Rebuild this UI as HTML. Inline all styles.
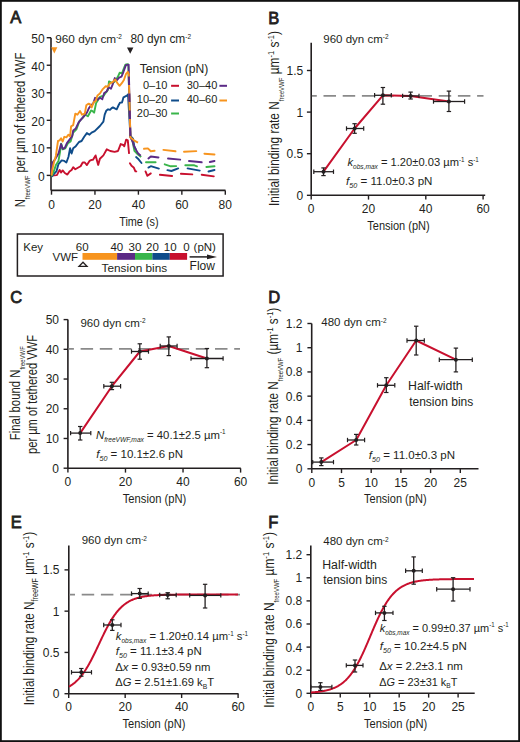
<!DOCTYPE html>
<html><head><meta charset="utf-8"><title>Figure</title>
<style>
html,body{margin:0;padding:0;background:#fff;}
svg{display:block;}
text{font-family:"Liberation Sans", sans-serif;fill:#231f20;}
</style></head><body>
<svg width="520" height="742" viewBox="0 0 520 742">
<rect x="0" y="0" width="520" height="742" fill="#fff"/>
<text x="10.2" y="23" font-size="16.5" text-anchor="start" stroke="#231f20" stroke-width="0.8">A</text>
<line x1="51" y1="37.7" x2="51" y2="190.4" stroke="#231f20" stroke-width="1.6" />
<line x1="46.7" y1="175.4" x2="51" y2="175.4" stroke="#231f20" stroke-width="1.4" />
<text x="44.6" y="181" font-size="12" text-anchor="end" >0</text>
<line x1="46.7" y1="147.86" x2="51" y2="147.86" stroke="#231f20" stroke-width="1.4" />
<text x="44.6" y="153.46" font-size="12" text-anchor="end" >10</text>
<line x1="46.7" y1="120.32" x2="51" y2="120.32" stroke="#231f20" stroke-width="1.4" />
<text x="44.6" y="125.92" font-size="12" text-anchor="end" >20</text>
<line x1="46.7" y1="92.78" x2="51" y2="92.78" stroke="#231f20" stroke-width="1.4" />
<text x="44.6" y="98.38" font-size="12" text-anchor="end" >30</text>
<line x1="46.7" y1="65.24" x2="51" y2="65.24" stroke="#231f20" stroke-width="1.4" />
<text x="44.6" y="70.84" font-size="12" text-anchor="end" >40</text>
<line x1="46.7" y1="37.7" x2="51" y2="37.7" stroke="#231f20" stroke-width="1.4" />
<text x="44.6" y="43.3" font-size="12" text-anchor="end" >50</text>
<line x1="51" y1="190.4" x2="225.5" y2="190.4" stroke="#231f20" stroke-width="1.6" />
<line x1="51.5" y1="190.4" x2="51.5" y2="194.7" stroke="#231f20" stroke-width="1.4" />
<text x="51.5" y="208.6" font-size="12" text-anchor="middle" >0</text>
<line x1="94.95" y1="190.4" x2="94.95" y2="194.7" stroke="#231f20" stroke-width="1.4" />
<text x="94.95" y="208.6" font-size="12" text-anchor="middle" >20</text>
<line x1="138.4" y1="190.4" x2="138.4" y2="194.7" stroke="#231f20" stroke-width="1.4" />
<text x="138.4" y="208.6" font-size="12" text-anchor="middle" >40</text>
<line x1="181.85" y1="190.4" x2="181.85" y2="194.7" stroke="#231f20" stroke-width="1.4" />
<text x="181.85" y="208.6" font-size="12" text-anchor="middle" >60</text>
<line x1="225.3" y1="190.4" x2="225.3" y2="194.7" stroke="#231f20" stroke-width="1.4" />
<text x="225.3" y="208.6" font-size="12" text-anchor="middle" >80</text>
<text x="138.9" y="226" font-size="13.5" text-anchor="middle" textLength="39.5" lengthAdjust="spacingAndGlyphs">Time (s)</text>
<text x="55.2" y="42.6" font-size="11.8">960 dyn cm<tspan font-size="6.5" dy="-3.8">-2</tspan></text>
<text x="130.4" y="42.6" font-size="11.9">80 dyn cm<tspan font-size="6.5" dy="-3.8">-2</tspan></text>
<polygon points="51.2,47.2 57.4,47.2 54.3,53.6" fill="#f7941e"/>
<polygon points="127,47.5 133.4,47.5 130.2,53.8" fill="#231f20"/>
<text x="139.8" y="73" font-size="12.1" text-anchor="start" >Tension (pN)</text>
<text x="167.4" y="89.3" font-size="11" text-anchor="end" >0–10</text>
<line x1="171.1" y1="85.8" x2="179" y2="85.8" stroke="#c8102e" stroke-width="2" />
<text x="167.4" y="103.4" font-size="11" text-anchor="end" >10–20</text>
<line x1="171.1" y1="100.5" x2="179" y2="100.5" stroke="#0f4c8a" stroke-width="2" />
<text x="167.4" y="117.2" font-size="11" text-anchor="end" >20–30</text>
<line x1="171.1" y1="113.5" x2="179" y2="113.5" stroke="#39b54a" stroke-width="2" />
<text x="186.7" y="89.3" font-size="11" text-anchor="start" >30–40</text>
<line x1="219.4" y1="85.8" x2="227" y2="85.8" stroke="#5b2a86" stroke-width="2" />
<text x="186.7" y="103.4" font-size="11" text-anchor="start" >40–60</text>
<line x1="219.4" y1="100.5" x2="227" y2="100.5" stroke="#f7941e" stroke-width="2" />
<text transform="translate(25.2,130) rotate(-90)" font-size="14.2" text-anchor="middle" textLength="154.5" lengthAdjust="spacingAndGlyphs">N<tspan font-size="7.6" dy="4.5">freeVWF</tspan><tspan dy="-4.5"> per µm of tethered VWF</tspan></text>
<polyline points="51.5,175.5 56.9,175.1 59.6,169.9 61.1,172.5 62.7,170.4 64.8,173 67.4,174.6 69.5,171.4 71.6,169.9 73.2,167.2 75.3,169.3 77.9,167.8 80.6,166.2 82.7,162.5 84.8,162.5 86.9,165.1 89.5,160.9 91.6,159.9 93,159.7 95.6,155.4 98.2,164.9 99.9,158.8 103.4,155.4 106.8,149.3 110.3,151 114.6,151.9 118,151 120.7,144.1 123.3,145 124.3,146.3 126.2,139.6 127.8,140.4 129.1,153.9" fill="none" stroke="#c8102e" stroke-width="1.9" stroke-linejoin="round" stroke-linecap="butt" />
<polyline points="129.9,163.3 131.5,165.7 133.7,167.4 135.4,171.4 136.3,171.4" fill="none" stroke="#c8102e" stroke-width="1.9" stroke-linejoin="round"  stroke-linecap="round"/>
<polyline points="145.5,171.4 147.4,175.8 150.8,173.4" fill="none" stroke="#c8102e" stroke-width="1.9" stroke-linejoin="round"  stroke-linecap="round"/>
<polyline points="159.9,174.8 172.1,176" fill="none" stroke="#c8102e" stroke-width="1.9" stroke-linejoin="round"  stroke-linecap="round"/>
<polyline points="180.9,173.7 192.3,174.4" fill="none" stroke="#c8102e" stroke-width="1.9" stroke-linejoin="round"  stroke-linecap="round"/>
<polyline points="201.7,174.7 213.8,176.4" fill="none" stroke="#c8102e" stroke-width="1.9" stroke-linejoin="round"  stroke-linecap="round"/>
<polyline points="51.5,175.5 52.2,176.2 54.3,173.5 56.4,171.4 58.5,164.1 61.7,160.4 64.3,160.9 66.4,162.5 68.5,156.7 70.1,148.3 71.6,153.6 73.2,148.3 75.8,146.2 79,142 81.6,141 84.2,136.8 86.9,133.1 89.5,134.7 91.6,132.6 94.7,131.1 99.9,126 103.4,121.6 104.7,114.6 106.2,110.8 108.1,109.3 110,109.8 111.4,108.4 112.9,107.4 114.8,108.4 116.7,109.3 118.7,105 120.1,102.6 122,102.6 123.5,97.3 125.4,96.3 127.3,95.4 128,94.4 130.4,136 133,138.6 134.2,146 136,150" fill="none" stroke="#0f4c8a" stroke-width="1.9" stroke-linejoin="round" stroke-linecap="butt" />
<polyline points="136.1,157.1 138,158.7 141.5,163" fill="none" stroke="#0f4c8a" stroke-width="1.9" stroke-linejoin="round"  stroke-linecap="round"/>
<polyline points="148.4,167.6 150.8,166.2 158.9,168.6" fill="none" stroke="#0f4c8a" stroke-width="1.9" stroke-linejoin="round"  stroke-linecap="round"/>
<polyline points="167.4,170.1 171.4,171 178.2,168.4" fill="none" stroke="#0f4c8a" stroke-width="1.9" stroke-linejoin="round"  stroke-linecap="round"/>
<polyline points="187.6,168.4 199.7,170.6" fill="none" stroke="#0f4c8a" stroke-width="1.9" stroke-linejoin="round"  stroke-linecap="round"/>
<polyline points="208.5,171.5 214.5,170" fill="none" stroke="#0f4c8a" stroke-width="1.9" stroke-linejoin="round"  stroke-linecap="round"/>
<polyline points="51.5,175.5 51.7,175.6 53.8,171.4 55.9,165.1 58.5,160.9 60.1,151.5 61.1,143.6 62.7,149.4 65.3,148.3 68,143.1 70.6,141.5 73.2,132.6 76.4,129.4 79.5,121 82.7,117.9 85.3,114.7 87.9,116.3 91.1,110.5 92.2,110.8 94.1,112.7 96.1,103.1 98,100.2 99.4,97.3 101.3,96.3 103.3,96.3 105.2,93.5 108.1,89.6 109,81.4 111,82.4 112.9,82.9 115.3,81 117.7,77.1 119.6,72.8 122,73.3 123.5,69.4 125.4,64.6 127.3,64.1 128.3,64.6 130.4,136.5 132.6,141.5 134.4,150.8 138,154.5 141.2,157" fill="none" stroke="#39b54a" stroke-width="1.9" stroke-linejoin="round" stroke-linecap="butt" />
<polyline points="146,162.3 148.8,162.3 155.6,162.3" fill="none" stroke="#39b54a" stroke-width="1.9" stroke-linejoin="round"  stroke-linecap="round"/>
<polyline points="164.7,164.3 170.8,166.3 176.2,166.1" fill="none" stroke="#39b54a" stroke-width="1.9" stroke-linejoin="round"  stroke-linecap="round"/>
<polyline points="185.3,165.3 194.3,165.3 197,166.3" fill="none" stroke="#39b54a" stroke-width="1.9" stroke-linejoin="round"  stroke-linecap="round"/>
<polyline points="206.4,167 214.5,166.3" fill="none" stroke="#39b54a" stroke-width="1.9" stroke-linejoin="round"  stroke-linecap="round"/>
<polyline points="51.2,172.5 52.2,163 55.4,158.8 58.5,153.6 61.1,144.1 62.7,148.8 64.8,147.8 66.9,143.1 70.1,138.9 72.2,136.2 73.2,130.5 75.8,128.4 78.5,122.6 81.6,118.9 84.2,115.8 86.9,112.6 88.8,108.4 91.25,105 93.2,103.6 95.1,97.8 97.5,99.7 99.9,97.8 102.3,99.2 104.2,93 106.6,91.5 108.6,87.2 111,88.7 112.9,83.8 114.8,78.1 116.7,80.5 119.1,77.6 121.5,76.6 123.5,71.8 125.9,65.1 128.6,64.6 130.4,137 132.6,141.5 134,146.3 135.9,149.6 138,153.3 140.7,155.8" fill="none" stroke="#5b2a86" stroke-width="1.9" stroke-linejoin="round" stroke-linecap="butt" />
<polyline points="148.4,158.5 150.8,156.5 158.5,157.5" fill="none" stroke="#5b2a86" stroke-width="1.9" stroke-linejoin="round"  stroke-linecap="round"/>
<polyline points="168,158.5 180.2,159.6" fill="none" stroke="#5b2a86" stroke-width="1.9" stroke-linejoin="round"  stroke-linecap="round"/>
<polyline points="189,161 201.7,162.3" fill="none" stroke="#5b2a86" stroke-width="1.9" stroke-linejoin="round"  stroke-linecap="round"/>
<polyline points="209.8,162 214.5,161" fill="none" stroke="#5b2a86" stroke-width="1.9" stroke-linejoin="round"  stroke-linecap="round"/>
<polyline points="51.5,175.5 52.2,170.4 53.8,163 55.9,155.7 58,141 59.6,140.4 61.1,138.3 62.7,141.5 64.3,136.8 66.4,137.3 68.5,134.7 70.1,136.2 71.1,126.3 73.2,125.2 75.3,113.7 77.4,114.7 80,111 82.1,114.7 84.8,113.7 86.3,105.3 88.4,103.7 89.8,104 91.7,107.4 93.7,102.1 95.6,101.2 97.5,95.4 99.9,93.5 102.8,89.1 105.7,86.3 107.6,86.7 110,83.4 112.9,81.9 115.3,79.5 117.2,82.9 119.6,85.8 122,82.9 123.9,80 125.9,74.2 127.8,71.8 128.75,74.2 130.4,137.5 132.1,138.8 134.8,140.9 138,142.6" fill="none" stroke="#f7941e" stroke-width="1.9" stroke-linejoin="round" stroke-linecap="butt" />
<polyline points="144,148.8 147.9,148.4 150.8,151.25 154.6,150.8" fill="none" stroke="#f7941e" stroke-width="1.9" stroke-linejoin="round"  stroke-linecap="round"/>
<polyline points="163.4,149.9 175.5,151.3" fill="none" stroke="#f7941e" stroke-width="1.9" stroke-linejoin="round"  stroke-linecap="round"/>
<polyline points="184,151.8 196.3,151.1" fill="none" stroke="#f7941e" stroke-width="1.9" stroke-linejoin="round"  stroke-linecap="round"/>
<polyline points="204.4,153.7 214.5,154.5" fill="none" stroke="#f7941e" stroke-width="1.9" stroke-linejoin="round"  stroke-linecap="round"/>
<line x1="128.8" y1="74.5" x2="130.4" y2="137" stroke="#5b2a86" stroke-width="2.1" stroke-dasharray="8.5 8.5" stroke-dashoffset="-2"/>
<rect x="17.4" y="234" width="205.7" height="42" fill="none" stroke="#231f20" stroke-width="1.5"/>
<text x="23.3" y="250.9" font-size="11.5" text-anchor="start" >Key</text>
<text x="52.6" y="261" font-size="11.5" text-anchor="start" >VWF</text>
<rect x="82.5" y="253" width="34.6" height="6.8" fill="#f7941e"/>
<rect x="117.1" y="253" width="17.9" height="6.8" fill="#5b2a86"/>
<rect x="135" y="253" width="17.4" height="6.8" fill="#39b54a"/>
<rect x="152.4" y="253" width="17.4" height="6.8" fill="#0f4c8a"/>
<rect x="169.8" y="253" width="17.3" height="6.8" fill="#c8102e"/>
<text x="82.2" y="250.9" font-size="11.5" text-anchor="middle" >60</text>
<text x="116.8" y="250.9" font-size="11.5" text-anchor="middle" >40</text>
<text x="135" y="250.9" font-size="11.5" text-anchor="middle" >30</text>
<text x="152.5" y="250.9" font-size="11.5" text-anchor="middle" >20</text>
<text x="170.2" y="250.9" font-size="11.5" text-anchor="middle" >10</text>
<text x="186.5" y="250.9" font-size="11.5" text-anchor="middle" >0</text>
<text x="193.6" y="250.9" font-size="11.5" text-anchor="start" >(pN)</text>
<polygon points="83,262.3 79,266.4 87,266.4" fill="none" stroke="#231f20" stroke-width="1.3"/>
<text x="101.6" y="272.2" font-size="11.8" text-anchor="start" >Tension bins</text>
<line x1="189.6" y1="256.9" x2="209" y2="256.9" stroke="#231f20" stroke-width="1.5" />
<polygon points="207,254.5 217,256.9 207,259.3" fill="#231f20"/>
<text x="189.6" y="269.5" font-size="12" text-anchor="start" >Flow</text>
<text x="268.2" y="23.5" font-size="16.5" text-anchor="start" stroke="#231f20" stroke-width="0.8">B</text>
<line x1="311.2" y1="42.7" x2="311.2" y2="195.3" stroke="#231f20" stroke-width="1.6" />
<line x1="306.9" y1="195.3" x2="311.2" y2="195.3" stroke="#231f20" stroke-width="1.4" />
<text x="303.2" y="199.7" font-size="12" text-anchor="end" >0</text>
<line x1="306.9" y1="153.7" x2="311.2" y2="153.7" stroke="#231f20" stroke-width="1.4" />
<text x="303.2" y="158.1" font-size="12" text-anchor="end" >0.5</text>
<line x1="306.9" y1="112.1" x2="311.2" y2="112.1" stroke="#231f20" stroke-width="1.4" />
<text x="303.2" y="116.5" font-size="12" text-anchor="end" >1</text>
<line x1="306.9" y1="70.5" x2="311.2" y2="70.5" stroke="#231f20" stroke-width="1.4" />
<text x="303.2" y="74.9" font-size="12" text-anchor="end" >1.5</text>
<line x1="311.2" y1="195.3" x2="485.2" y2="195.3" stroke="#231f20" stroke-width="1.6" />
<line x1="311.2" y1="195.3" x2="311.2" y2="199.6" stroke="#231f20" stroke-width="1.4" />
<text x="311.2" y="213" font-size="12" text-anchor="middle" >0</text>
<line x1="368.5" y1="195.3" x2="368.5" y2="199.6" stroke="#231f20" stroke-width="1.4" />
<text x="368.5" y="213" font-size="12" text-anchor="middle" >20</text>
<line x1="425.8" y1="195.3" x2="425.8" y2="199.6" stroke="#231f20" stroke-width="1.4" />
<text x="425.8" y="213" font-size="12" text-anchor="middle" >40</text>
<line x1="483.1" y1="195.3" x2="483.1" y2="199.6" stroke="#231f20" stroke-width="1.4" />
<text x="483.1" y="213" font-size="12" text-anchor="middle" >60</text>
<text x="398.5" y="230.3" font-size="13.5" text-anchor="middle" textLength="62.5" lengthAdjust="spacingAndGlyphs">Tension (pN)</text>
<text x="323.3" y="42.7" font-size="11.5">960 dyn cm<tspan font-size="6.5" dy="-3.8">-2</tspan></text>
<line x1="311.9" y1="95.8" x2="483.5" y2="95.8" stroke="#8a8a8a" stroke-width="1.8" stroke-dasharray="12.5 6.7" stroke-dashoffset="7.6"/>
<polyline points="323.5,171.7 354.6,128.5 382.9,95.3 410.6,95.9 448.9,101.5" fill="none" stroke="#c8102e" stroke-width="2" stroke-linejoin="round" stroke-linecap="butt" />
<line x1="313.8" y1="171.7" x2="333.5" y2="171.7" stroke="#231f20" stroke-width="1.3" />
<line x1="323.5" y1="167.9" x2="323.5" y2="175.6" stroke="#231f20" stroke-width="1.3" />
<line x1="313.8" y1="169.5" x2="313.8" y2="173.9" stroke="#231f20" stroke-width="1.2" />
<line x1="333.5" y1="169.5" x2="333.5" y2="173.9" stroke="#231f20" stroke-width="1.2" />
<line x1="321.3" y1="167.9" x2="325.7" y2="167.9" stroke="#231f20" stroke-width="1.2" />
<line x1="321.3" y1="175.6" x2="325.7" y2="175.6" stroke="#231f20" stroke-width="1.2" />
<circle cx="323.5" cy="171.7" r="2" fill="#231f20"/>
<line x1="346.5" y1="128.5" x2="363.7" y2="128.5" stroke="#231f20" stroke-width="1.3" />
<line x1="354.6" y1="123.7" x2="354.6" y2="133.3" stroke="#231f20" stroke-width="1.3" />
<line x1="346.5" y1="126.3" x2="346.5" y2="130.7" stroke="#231f20" stroke-width="1.2" />
<line x1="363.7" y1="126.3" x2="363.7" y2="130.7" stroke="#231f20" stroke-width="1.2" />
<line x1="352.4" y1="123.7" x2="356.8" y2="123.7" stroke="#231f20" stroke-width="1.2" />
<line x1="352.4" y1="133.3" x2="356.8" y2="133.3" stroke="#231f20" stroke-width="1.2" />
<circle cx="354.6" cy="128.5" r="2" fill="#231f20"/>
<line x1="374.6" y1="95.3" x2="391.3" y2="95.3" stroke="#231f20" stroke-width="1.3" />
<line x1="382.9" y1="87.5" x2="382.9" y2="104.2" stroke="#231f20" stroke-width="1.3" />
<line x1="374.6" y1="93.1" x2="374.6" y2="97.5" stroke="#231f20" stroke-width="1.2" />
<line x1="391.3" y1="93.1" x2="391.3" y2="97.5" stroke="#231f20" stroke-width="1.2" />
<line x1="380.7" y1="87.5" x2="385.1" y2="87.5" stroke="#231f20" stroke-width="1.2" />
<line x1="380.7" y1="104.2" x2="385.1" y2="104.2" stroke="#231f20" stroke-width="1.2" />
<circle cx="382.9" cy="95.3" r="2" fill="#231f20"/>
<line x1="402.6" y1="95.9" x2="419" y2="95.9" stroke="#231f20" stroke-width="1.3" />
<line x1="410.6" y1="92.1" x2="410.6" y2="99" stroke="#231f20" stroke-width="1.3" />
<line x1="402.6" y1="93.7" x2="402.6" y2="98.1" stroke="#231f20" stroke-width="1.2" />
<line x1="419" y1="93.7" x2="419" y2="98.1" stroke="#231f20" stroke-width="1.2" />
<line x1="408.4" y1="92.1" x2="412.8" y2="92.1" stroke="#231f20" stroke-width="1.2" />
<line x1="408.4" y1="99" x2="412.8" y2="99" stroke="#231f20" stroke-width="1.2" />
<circle cx="410.6" cy="95.9" r="2" fill="#231f20"/>
<line x1="433.5" y1="101.5" x2="464.6" y2="101.5" stroke="#231f20" stroke-width="1.3" />
<line x1="448.9" y1="91.1" x2="448.9" y2="111.5" stroke="#231f20" stroke-width="1.3" />
<line x1="433.5" y1="99.3" x2="433.5" y2="103.7" stroke="#231f20" stroke-width="1.2" />
<line x1="464.6" y1="99.3" x2="464.6" y2="103.7" stroke="#231f20" stroke-width="1.2" />
<line x1="446.7" y1="91.1" x2="451.1" y2="91.1" stroke="#231f20" stroke-width="1.2" />
<line x1="446.7" y1="111.5" x2="451.1" y2="111.5" stroke="#231f20" stroke-width="1.2" />
<circle cx="448.9" cy="101.5" r="2" fill="#231f20"/>
<text x="347.5" y="166.2" font-size="11.6" textLength="131.3" lengthAdjust="spacingAndGlyphs"><tspan font-style="italic">k</tspan><tspan font-style="italic" font-size="6.8" dy="3.2">obs,max</tspan><tspan dy="-3.2"> = 1.20±0.03 µm</tspan><tspan font-size="6.5" dy="-4.2">-1</tspan><tspan dy="4.2"> s</tspan><tspan font-size="6.5" dy="-4.2">-1</tspan><tspan dy="4.2"></tspan></text>
<text x="346" y="184.6" font-size="11.6" textLength="86.5" lengthAdjust="spacingAndGlyphs"><tspan font-style="italic">f</tspan><tspan font-style="italic" font-size="7.2" dy="3">50</tspan><tspan dy="-3"> = 11.0±0.3 pN</tspan></text>
<text transform="translate(279,118.5) rotate(-90)" font-size="14.2" text-anchor="middle" textLength="175" lengthAdjust="spacingAndGlyphs">Initial binding rate N<tspan font-size="7.2" dy="4.8">freeVWF</tspan><tspan dy="-4.8"> µm<tspan font-size="9" dy="-5">-1</tspan><tspan dy="5"> s</tspan><tspan font-size="9" dy="-5">-1</tspan><tspan dy="5">)</tspan></tspan></text>
<text x="10.3" y="303.3" font-size="16.5" text-anchor="start" stroke="#231f20" stroke-width="0.8">C</text>
<line x1="67.9" y1="319.6" x2="67.9" y2="468.3" stroke="#231f20" stroke-width="1.6" />
<line x1="63.6" y1="468.2" x2="67.9" y2="468.2" stroke="#231f20" stroke-width="1.4" />
<text x="59" y="472.6" font-size="12" text-anchor="end" >0</text>
<line x1="63.6" y1="438.48" x2="67.9" y2="438.48" stroke="#231f20" stroke-width="1.4" />
<text x="59" y="442.88" font-size="12" text-anchor="end" >10</text>
<line x1="63.6" y1="408.76" x2="67.9" y2="408.76" stroke="#231f20" stroke-width="1.4" />
<text x="59" y="413.16" font-size="12" text-anchor="end" >20</text>
<line x1="63.6" y1="379.04" x2="67.9" y2="379.04" stroke="#231f20" stroke-width="1.4" />
<text x="59" y="383.44" font-size="12" text-anchor="end" >30</text>
<line x1="63.6" y1="349.32" x2="67.9" y2="349.32" stroke="#231f20" stroke-width="1.4" />
<text x="59" y="353.72" font-size="12" text-anchor="end" >40</text>
<line x1="63.6" y1="319.6" x2="67.9" y2="319.6" stroke="#231f20" stroke-width="1.4" />
<text x="59" y="324" font-size="12" text-anchor="end" >50</text>
<line x1="67.9" y1="468.3" x2="240.8" y2="468.3" stroke="#231f20" stroke-width="1.6" />
<line x1="67.9" y1="468.3" x2="67.9" y2="472.6" stroke="#231f20" stroke-width="1.4" />
<text x="67.9" y="486.2" font-size="12" text-anchor="middle" >0</text>
<line x1="125.47" y1="468.3" x2="125.47" y2="472.6" stroke="#231f20" stroke-width="1.4" />
<text x="125.47" y="486.2" font-size="12" text-anchor="middle" >20</text>
<line x1="183.03" y1="468.3" x2="183.03" y2="472.6" stroke="#231f20" stroke-width="1.4" />
<text x="183.03" y="486.2" font-size="12" text-anchor="middle" >40</text>
<line x1="240.6" y1="468.3" x2="240.6" y2="472.6" stroke="#231f20" stroke-width="1.4" />
<text x="240.6" y="486.2" font-size="12" text-anchor="middle" >60</text>
<text x="154.5" y="503" font-size="13.5" text-anchor="middle" textLength="63.5" lengthAdjust="spacingAndGlyphs">Tension (pN)</text>
<text x="80.4" y="326.6" font-size="11.5">960 dyn cm<tspan font-size="6.5" dy="-3.8">-2</tspan></text>
<line x1="68.5" y1="348.8" x2="240" y2="348.8" stroke="#8a8a8a" stroke-width="1.8" stroke-dasharray="12.5 6.7" stroke-dashoffset="7.1"/>
<polyline points="80.2,433.1 111.9,386.2 139.8,351.5 168.8,346 206.9,358.5" fill="none" stroke="#c8102e" stroke-width="2" stroke-linejoin="round" stroke-linecap="butt" />
<line x1="70.6" y1="433.1" x2="90.8" y2="433.1" stroke="#231f20" stroke-width="1.3" />
<line x1="80.2" y1="426.5" x2="80.2" y2="440" stroke="#231f20" stroke-width="1.3" />
<line x1="70.6" y1="430.9" x2="70.6" y2="435.3" stroke="#231f20" stroke-width="1.2" />
<line x1="90.8" y1="430.9" x2="90.8" y2="435.3" stroke="#231f20" stroke-width="1.2" />
<line x1="78" y1="426.5" x2="82.4" y2="426.5" stroke="#231f20" stroke-width="1.2" />
<line x1="78" y1="440" x2="82.4" y2="440" stroke="#231f20" stroke-width="1.2" />
<circle cx="80.2" cy="433.1" r="2" fill="#231f20"/>
<line x1="103.8" y1="386.2" x2="120.6" y2="386.2" stroke="#231f20" stroke-width="1.3" />
<line x1="111.9" y1="382.3" x2="111.9" y2="389.6" stroke="#231f20" stroke-width="1.3" />
<line x1="103.8" y1="384" x2="103.8" y2="388.4" stroke="#231f20" stroke-width="1.2" />
<line x1="120.6" y1="384" x2="120.6" y2="388.4" stroke="#231f20" stroke-width="1.2" />
<line x1="109.7" y1="382.3" x2="114.1" y2="382.3" stroke="#231f20" stroke-width="1.2" />
<line x1="109.7" y1="389.6" x2="114.1" y2="389.6" stroke="#231f20" stroke-width="1.2" />
<circle cx="111.9" cy="386.2" r="2" fill="#231f20"/>
<line x1="131.5" y1="351.5" x2="148.5" y2="351.5" stroke="#231f20" stroke-width="1.3" />
<line x1="139.8" y1="343.8" x2="139.8" y2="359.2" stroke="#231f20" stroke-width="1.3" />
<line x1="131.5" y1="349.3" x2="131.5" y2="353.7" stroke="#231f20" stroke-width="1.2" />
<line x1="148.5" y1="349.3" x2="148.5" y2="353.7" stroke="#231f20" stroke-width="1.2" />
<line x1="137.6" y1="343.8" x2="142" y2="343.8" stroke="#231f20" stroke-width="1.2" />
<line x1="137.6" y1="359.2" x2="142" y2="359.2" stroke="#231f20" stroke-width="1.2" />
<circle cx="139.8" cy="351.5" r="2" fill="#231f20"/>
<line x1="160.2" y1="346" x2="177.1" y2="346" stroke="#231f20" stroke-width="1.3" />
<line x1="168.8" y1="336.9" x2="168.8" y2="355.6" stroke="#231f20" stroke-width="1.3" />
<line x1="160.2" y1="343.8" x2="160.2" y2="348.2" stroke="#231f20" stroke-width="1.2" />
<line x1="177.1" y1="343.8" x2="177.1" y2="348.2" stroke="#231f20" stroke-width="1.2" />
<line x1="166.6" y1="336.9" x2="171" y2="336.9" stroke="#231f20" stroke-width="1.2" />
<line x1="166.6" y1="355.6" x2="171" y2="355.6" stroke="#231f20" stroke-width="1.2" />
<circle cx="168.8" cy="346" r="2" fill="#231f20"/>
<line x1="191" y1="358.5" x2="223.1" y2="358.5" stroke="#231f20" stroke-width="1.3" />
<line x1="206.9" y1="348.5" x2="206.9" y2="367.7" stroke="#231f20" stroke-width="1.3" />
<line x1="191" y1="356.3" x2="191" y2="360.7" stroke="#231f20" stroke-width="1.2" />
<line x1="223.1" y1="356.3" x2="223.1" y2="360.7" stroke="#231f20" stroke-width="1.2" />
<line x1="204.7" y1="348.5" x2="209.1" y2="348.5" stroke="#231f20" stroke-width="1.2" />
<line x1="204.7" y1="367.7" x2="209.1" y2="367.7" stroke="#231f20" stroke-width="1.2" />
<circle cx="206.9" cy="358.5" r="2" fill="#231f20"/>
<text x="96" y="438.5" font-size="11.6" textLength="129.6" lengthAdjust="spacingAndGlyphs"><tspan font-style="italic">N</tspan><tspan font-style="italic" font-size="6.8" dy="3">freeVWF,max</tspan><tspan dy="-3"> = 40.1±2.5 µm</tspan><tspan font-size="6.5" dy="-4.2">-1</tspan><tspan dy="4.2"></tspan></text>
<text x="96.3" y="457.5" font-size="11.6" textLength="86.7" lengthAdjust="spacingAndGlyphs"><tspan font-style="italic">f</tspan><tspan font-style="italic" font-size="7.2" dy="3">50</tspan><tspan dy="-3"> = 10.1±2.6 pN</tspan></text>
<text transform="translate(20,393.2) rotate(-90)" font-size="14.2" text-anchor="middle" textLength="94" lengthAdjust="spacingAndGlyphs">Final bound N<tspan font-size="7.4" dy="4.5">freeVWF</tspan><tspan dy="-4.5"></tspan></text>
<text transform="translate(36.6,394.5) rotate(-90)" font-size="14.2" text-anchor="middle" textLength="119" lengthAdjust="spacingAndGlyphs">per µm of tethered VWF</text>
<text x="268.2" y="303.2" font-size="16.5" text-anchor="start" stroke="#231f20" stroke-width="0.8">D</text>
<line x1="311.7" y1="323.5" x2="311.7" y2="468.8" stroke="#231f20" stroke-width="1.6" />
<line x1="307.4" y1="468.8" x2="311.7" y2="468.8" stroke="#231f20" stroke-width="1.4" />
<text x="302.5" y="473.2" font-size="12" text-anchor="end" >0</text>
<line x1="307.4" y1="444.58" x2="311.7" y2="444.58" stroke="#231f20" stroke-width="1.4" />
<text x="302.5" y="448.98" font-size="12" text-anchor="end" >0.2</text>
<line x1="307.4" y1="420.37" x2="311.7" y2="420.37" stroke="#231f20" stroke-width="1.4" />
<text x="302.5" y="424.77" font-size="12" text-anchor="end" >0.4</text>
<line x1="307.4" y1="396.15" x2="311.7" y2="396.15" stroke="#231f20" stroke-width="1.4" />
<text x="302.5" y="400.55" font-size="12" text-anchor="end" >0.6</text>
<line x1="307.4" y1="371.94" x2="311.7" y2="371.94" stroke="#231f20" stroke-width="1.4" />
<text x="302.5" y="376.34" font-size="12" text-anchor="end" >0.8</text>
<line x1="307.4" y1="347.72" x2="311.7" y2="347.72" stroke="#231f20" stroke-width="1.4" />
<text x="302.5" y="352.12" font-size="12" text-anchor="end" >1</text>
<line x1="307.4" y1="323.5" x2="311.7" y2="323.5" stroke="#231f20" stroke-width="1.4" />
<text x="302.5" y="327.9" font-size="12" text-anchor="end" >1.2</text>
<line x1="311.7" y1="468.8" x2="478.5" y2="468.8" stroke="#231f20" stroke-width="1.6" />
<line x1="311.8" y1="468.8" x2="311.8" y2="473.1" stroke="#231f20" stroke-width="1.4" />
<text x="311.8" y="487" font-size="12" text-anchor="middle" >0</text>
<line x1="341.5" y1="468.8" x2="341.5" y2="473.1" stroke="#231f20" stroke-width="1.4" />
<text x="341.5" y="487" font-size="12" text-anchor="middle" >5</text>
<line x1="371.2" y1="468.8" x2="371.2" y2="473.1" stroke="#231f20" stroke-width="1.4" />
<text x="371.2" y="487" font-size="12" text-anchor="middle" >10</text>
<line x1="400.9" y1="468.8" x2="400.9" y2="473.1" stroke="#231f20" stroke-width="1.4" />
<text x="400.9" y="487" font-size="12" text-anchor="middle" >15</text>
<line x1="430.6" y1="468.8" x2="430.6" y2="473.1" stroke="#231f20" stroke-width="1.4" />
<text x="430.6" y="487" font-size="12" text-anchor="middle" >20</text>
<line x1="460.3" y1="468.8" x2="460.3" y2="473.1" stroke="#231f20" stroke-width="1.4" />
<text x="460.3" y="487" font-size="12" text-anchor="middle" >25</text>
<text x="395.3" y="502.5" font-size="13.5" text-anchor="middle" textLength="62.5" lengthAdjust="spacingAndGlyphs">Tension (pN)</text>
<text x="321.3" y="326.3" font-size="11.5">480 dyn cm<tspan font-size="6.5" dy="-3.8">-2</tspan></text>
<polyline points="321.3,462.1 356.2,440 386.3,385.3 416.2,340.5 455.9,359.7" fill="none" stroke="#c8102e" stroke-width="2" stroke-linejoin="round" stroke-linecap="butt" />
<line x1="312.7" y1="462.1" x2="333.5" y2="462.1" stroke="#231f20" stroke-width="1.3" />
<line x1="321.3" y1="457.9" x2="321.3" y2="465.6" stroke="#231f20" stroke-width="1.3" />
<line x1="312.7" y1="459.9" x2="312.7" y2="464.3" stroke="#231f20" stroke-width="1.2" />
<line x1="333.5" y1="459.9" x2="333.5" y2="464.3" stroke="#231f20" stroke-width="1.2" />
<line x1="319.1" y1="457.9" x2="323.5" y2="457.9" stroke="#231f20" stroke-width="1.2" />
<line x1="319.1" y1="465.6" x2="323.5" y2="465.6" stroke="#231f20" stroke-width="1.2" />
<circle cx="321.3" cy="462.1" r="2" fill="#231f20"/>
<line x1="347.5" y1="440" x2="364.6" y2="440" stroke="#231f20" stroke-width="1.3" />
<line x1="356.2" y1="434.4" x2="356.2" y2="445" stroke="#231f20" stroke-width="1.3" />
<line x1="347.5" y1="437.8" x2="347.5" y2="442.2" stroke="#231f20" stroke-width="1.2" />
<line x1="364.6" y1="437.8" x2="364.6" y2="442.2" stroke="#231f20" stroke-width="1.2" />
<line x1="354" y1="434.4" x2="358.4" y2="434.4" stroke="#231f20" stroke-width="1.2" />
<line x1="354" y1="445" x2="358.4" y2="445" stroke="#231f20" stroke-width="1.2" />
<circle cx="356.2" cy="440" r="2" fill="#231f20"/>
<line x1="377.5" y1="385.3" x2="394.8" y2="385.3" stroke="#231f20" stroke-width="1.3" />
<line x1="386.3" y1="377.7" x2="386.3" y2="392.5" stroke="#231f20" stroke-width="1.3" />
<line x1="377.5" y1="383.1" x2="377.5" y2="387.5" stroke="#231f20" stroke-width="1.2" />
<line x1="394.8" y1="383.1" x2="394.8" y2="387.5" stroke="#231f20" stroke-width="1.2" />
<line x1="384.1" y1="377.7" x2="388.5" y2="377.7" stroke="#231f20" stroke-width="1.2" />
<line x1="384.1" y1="392.5" x2="388.5" y2="392.5" stroke="#231f20" stroke-width="1.2" />
<circle cx="386.3" cy="385.3" r="2" fill="#231f20"/>
<line x1="407" y1="340.5" x2="424.3" y2="340.5" stroke="#231f20" stroke-width="1.3" />
<line x1="416.2" y1="326.2" x2="416.2" y2="355" stroke="#231f20" stroke-width="1.3" />
<line x1="407" y1="338.3" x2="407" y2="342.7" stroke="#231f20" stroke-width="1.2" />
<line x1="424.3" y1="338.3" x2="424.3" y2="342.7" stroke="#231f20" stroke-width="1.2" />
<line x1="414" y1="326.2" x2="418.4" y2="326.2" stroke="#231f20" stroke-width="1.2" />
<line x1="414" y1="355" x2="418.4" y2="355" stroke="#231f20" stroke-width="1.2" />
<circle cx="416.2" cy="340.5" r="2" fill="#231f20"/>
<line x1="439.3" y1="359.7" x2="472.3" y2="359.7" stroke="#231f20" stroke-width="1.3" />
<line x1="455.9" y1="348.1" x2="455.9" y2="371.9" stroke="#231f20" stroke-width="1.3" />
<line x1="439.3" y1="357.5" x2="439.3" y2="361.9" stroke="#231f20" stroke-width="1.2" />
<line x1="472.3" y1="357.5" x2="472.3" y2="361.9" stroke="#231f20" stroke-width="1.2" />
<line x1="453.7" y1="348.1" x2="458.1" y2="348.1" stroke="#231f20" stroke-width="1.2" />
<line x1="453.7" y1="371.9" x2="458.1" y2="371.9" stroke="#231f20" stroke-width="1.2" />
<circle cx="455.9" cy="359.7" r="2" fill="#231f20"/>
<text x="408" y="389.6" font-size="12.3" text-anchor="start" >Half-width</text>
<text x="409.2" y="405.6" font-size="12" text-anchor="start" >tension bins</text>
<text x="368.8" y="458.5" font-size="11.6" textLength="86.2" lengthAdjust="spacingAndGlyphs"><tspan font-style="italic">f</tspan><tspan font-style="italic" font-size="7.2" dy="3">50</tspan><tspan dy="-3"> = 11.0±0.3 pN</tspan></text>
<text transform="translate(278.3,396.3) rotate(-90)" font-size="14.2" text-anchor="middle" textLength="177" lengthAdjust="spacingAndGlyphs">Initial binding rate N<tspan font-size="7.2" dy="4.8">freeVWF</tspan><tspan dy="-4.8"> (µm<tspan font-size="9" dy="-5">-1</tspan><tspan dy="5"> s</tspan><tspan font-size="9" dy="-5">-1</tspan><tspan dy="5">)</tspan></tspan></text>
<text x="10.8" y="528.1" font-size="16.5" text-anchor="start" stroke="#231f20" stroke-width="0.8">E</text>
<line x1="68.8" y1="545.4" x2="68.8" y2="693.7" stroke="#231f20" stroke-width="1.6" />
<line x1="64.5" y1="693.7" x2="68.8" y2="693.7" stroke="#231f20" stroke-width="1.4" />
<text x="59.5" y="698.1" font-size="12" text-anchor="end" >0</text>
<line x1="64.5" y1="652.43" x2="68.8" y2="652.43" stroke="#231f20" stroke-width="1.4" />
<text x="59.5" y="656.83" font-size="12" text-anchor="end" >0.5</text>
<line x1="64.5" y1="611.15" x2="68.8" y2="611.15" stroke="#231f20" stroke-width="1.4" />
<text x="59.5" y="615.55" font-size="12" text-anchor="end" >1</text>
<line x1="64.5" y1="569.88" x2="68.8" y2="569.88" stroke="#231f20" stroke-width="1.4" />
<text x="59.5" y="574.27" font-size="12" text-anchor="end" >1.5</text>
<line x1="68.8" y1="693.7" x2="238.5" y2="693.7" stroke="#231f20" stroke-width="1.6" />
<line x1="68.7" y1="693.7" x2="68.7" y2="698" stroke="#231f20" stroke-width="1.4" />
<text x="68.7" y="711" font-size="12" text-anchor="middle" >0</text>
<line x1="125.17" y1="693.7" x2="125.17" y2="698" stroke="#231f20" stroke-width="1.4" />
<text x="125.17" y="711" font-size="12" text-anchor="middle" >20</text>
<line x1="181.63" y1="693.7" x2="181.63" y2="698" stroke="#231f20" stroke-width="1.4" />
<text x="181.63" y="711" font-size="12" text-anchor="middle" >40</text>
<line x1="238.1" y1="693.7" x2="238.1" y2="698" stroke="#231f20" stroke-width="1.4" />
<text x="238.1" y="711" font-size="12" text-anchor="middle" >60</text>
<text x="154" y="727.8" font-size="13.5" text-anchor="middle" textLength="63" lengthAdjust="spacingAndGlyphs">Tension (pN)</text>
<text x="81.7" y="544.4" font-size="11.5">960 dyn cm<tspan font-size="6.5" dy="-3.8">-2</tspan></text>
<line x1="69.5" y1="594.7" x2="240" y2="594.7" stroke="#8a8a8a" stroke-width="1.8" stroke-dasharray="12.5 6.7" stroke-dashoffset="7"/>
<polyline points="69,686.63 69.5,686.35 70,686.05 70.5,685.75 71,685.43 71.5,685.1 72,684.76 72.5,684.41 73,684.04 73.5,683.67 74,683.27 74.5,682.87 75,682.45 75.5,682.02 76,681.57 76.5,681.11 77,680.63 77.5,680.14 78,679.63 78.5,679.11 79,678.56 79.5,678.01 80,677.43 80.5,676.84 81,676.24 81.5,675.61 82,674.97 82.5,674.31 83,673.63 83.5,672.94 84,672.22 84.5,671.49 85,670.75 85.5,669.98 86,669.2 86.5,668.4 87,667.58 87.5,666.75 88,665.9 88.5,665.03 89,664.15 89.5,663.25 90,662.33 90.5,661.41 91,660.46 91.5,659.51 92,658.54 92.5,657.56 93,656.57 93.5,655.56 94,654.55 94.5,653.53 95,652.5 95.5,651.46 96,650.41 96.5,649.36 97,648.3 97.5,647.24 98,646.18 98.5,645.12 99,644.05 99.5,642.98 100,641.92 100.5,640.86 101,639.8 101.5,638.74 102,637.69 102.5,636.64 103,635.6 103.5,634.57 104,633.55 104.5,632.54 105,631.53 105.5,630.54 106,629.56 106.5,628.59 107,627.64 107.5,626.69 108,625.77 108.5,624.85 109,623.95 109.5,623.07 110,622.2 110.5,621.35 111,620.52 111.5,619.7 112,618.9 112.5,618.12 113,617.35 113.5,616.61 114,615.88 114.5,615.16 115,614.47 115.5,613.79 116,613.13 116.5,612.49 117,611.86 117.5,611.26 118,610.67 118.5,610.09 119,609.54 119.5,608.99 120,608.47 120.5,607.96 121,607.47 121.5,606.99 122,606.53 122.5,606.08 123,605.65 123.5,605.23 124,604.83 124.5,604.43 125,604.06 125.5,603.69 126,603.34 126.5,603 127,602.67 127.5,602.35 128,602.05 128.5,601.75 129,601.47 129.5,601.2 130,600.93 130.5,600.68 131,600.43 131.5,600.2 132,599.97 132.5,599.75 133,599.54 133.5,599.34 134,599.15 134.5,598.96 135,598.78 135.5,598.61 136,598.44 136.5,598.28 137,598.13 137.5,597.98 138,597.84 138.5,597.7 139,597.57 139.5,597.45 140,597.33 140.5,597.21 141,597.1 141.5,596.99 142,596.89 142.5,596.79 143,596.7 143.5,596.61 144,596.52 144.5,596.44 145,596.36 145.5,596.28 146,596.21 146.5,596.14 147,596.07 147.5,596 148,595.94 148.5,595.88 149,595.82 149.5,595.77 150,595.72 150.5,595.66 151,595.62 151.5,595.57 152,595.52 152.5,595.48 153,595.44 153.5,595.4 154,595.36 154.5,595.33 155,595.29 155.5,595.26 156,595.23 156.5,595.2 157,595.17 157.5,595.14 158,595.11 158.5,595.09 159,595.06 159.5,595.04 160,595.02 160.5,595 161,594.98 161.5,594.96 162,594.94 162.5,594.92 163,594.9 163.5,594.88 164,594.87 164.5,594.85 165,594.84 165.5,594.82 166,594.81 166.5,594.8 167,594.78 167.5,594.77 168,594.76 168.5,594.75 169,594.74 169.5,594.73 170,594.72 170.5,594.71 171,594.7 171.5,594.69 172,594.68 172.5,594.68 173,594.67 173.5,594.66 174,594.66 174.5,594.65 175,594.64 175.5,594.64 176,594.63 176.5,594.63 177,594.62 177.5,594.62 178,594.61 178.5,594.61 179,594.6 179.5,594.6 180,594.59 180.5,594.59 181,594.59 181.5,594.58 182,594.58 182.5,594.57 183,594.57 183.5,594.57 184,594.57 184.5,594.56 185,594.56 185.5,594.56 186,594.56 186.5,594.55 187,594.55 187.5,594.55 188,594.55 188.5,594.54 189,594.54 189.5,594.54 190,594.54 190.5,594.54 191,594.54 191.5,594.53 192,594.53 192.5,594.53 193,594.53 193.5,594.53 194,594.53 194.5,594.53 195,594.53 195.5,594.52 196,594.52 196.5,594.52 197,594.52 197.5,594.52 198,594.52 198.5,594.52 199,594.52 199.5,594.52 200,594.52 200.5,594.52 201,594.52 201.5,594.51 202,594.51 202.5,594.51 203,594.51 203.5,594.51 204,594.51 204.5,594.51 205,594.51 205.5,594.51 206,594.51 206.5,594.51 207,594.51 207.5,594.51 208,594.51 208.5,594.51 209,594.51 209.5,594.51 210,594.51 210.5,594.51 211,594.51 211.5,594.51 212,594.51 212.5,594.51 213,594.51 213.5,594.51 214,594.5 214.5,594.5 215,594.5 215.5,594.5 216,594.5 216.5,594.5 217,594.5 217.5,594.5 218,594.5 218.5,594.5 219,594.5 219.5,594.5 220,594.5 220.5,594.5 221,594.5 221.5,594.5 222,594.5 222.5,594.5 223,594.5 223.5,594.5 224,594.5 224.5,594.5 225,594.5 225.5,594.5 226,594.5 226.5,594.5 227,594.5 227.5,594.5 228,594.5 228.5,594.5 229,594.5 229.5,594.5 230,594.5 230.5,594.5 231,594.5 231.5,594.5 232,594.5 232.5,594.5 233,594.5 233.5,594.5 234,594.5 234.5,594.5 235,594.5 235.5,594.5 236,594.5 236.5,594.5 237,594.5 237.5,594.5 238,594.5" fill="none" stroke="#c8102e" stroke-width="2" stroke-linejoin="round" stroke-linecap="butt" />
<line x1="71.5" y1="672.3" x2="91.5" y2="672.3" stroke="#231f20" stroke-width="1.3" />
<line x1="81.3" y1="668.5" x2="81.3" y2="676.2" stroke="#231f20" stroke-width="1.3" />
<line x1="71.5" y1="670.1" x2="71.5" y2="674.5" stroke="#231f20" stroke-width="1.2" />
<line x1="91.5" y1="670.1" x2="91.5" y2="674.5" stroke="#231f20" stroke-width="1.2" />
<line x1="79.1" y1="668.5" x2="83.5" y2="668.5" stroke="#231f20" stroke-width="1.2" />
<line x1="79.1" y1="676.2" x2="83.5" y2="676.2" stroke="#231f20" stroke-width="1.2" />
<circle cx="81.3" cy="672.3" r="2" fill="#231f20"/>
<line x1="103.7" y1="625" x2="121" y2="625" stroke="#231f20" stroke-width="1.3" />
<line x1="112.3" y1="619.8" x2="112.3" y2="630.4" stroke="#231f20" stroke-width="1.3" />
<line x1="103.7" y1="622.8" x2="103.7" y2="627.2" stroke="#231f20" stroke-width="1.2" />
<line x1="121" y1="622.8" x2="121" y2="627.2" stroke="#231f20" stroke-width="1.2" />
<line x1="110.1" y1="619.8" x2="114.5" y2="619.8" stroke="#231f20" stroke-width="1.2" />
<line x1="110.1" y1="630.4" x2="114.5" y2="630.4" stroke="#231f20" stroke-width="1.2" />
<circle cx="112.3" cy="625" r="2" fill="#231f20"/>
<line x1="131.5" y1="593.6" x2="148.2" y2="593.6" stroke="#231f20" stroke-width="1.3" />
<line x1="139.7" y1="588.5" x2="139.7" y2="598.4" stroke="#231f20" stroke-width="1.3" />
<line x1="131.5" y1="591.4" x2="131.5" y2="595.8" stroke="#231f20" stroke-width="1.2" />
<line x1="148.2" y1="591.4" x2="148.2" y2="595.8" stroke="#231f20" stroke-width="1.2" />
<line x1="137.5" y1="588.5" x2="141.9" y2="588.5" stroke="#231f20" stroke-width="1.2" />
<line x1="137.5" y1="598.4" x2="141.9" y2="598.4" stroke="#231f20" stroke-width="1.2" />
<circle cx="139.7" cy="593.6" r="2" fill="#231f20"/>
<line x1="159.7" y1="595" x2="176.2" y2="595" stroke="#231f20" stroke-width="1.3" />
<line x1="167.7" y1="592.7" x2="167.7" y2="598.8" stroke="#231f20" stroke-width="1.3" />
<line x1="159.7" y1="592.8" x2="159.7" y2="597.2" stroke="#231f20" stroke-width="1.2" />
<line x1="176.2" y1="592.8" x2="176.2" y2="597.2" stroke="#231f20" stroke-width="1.2" />
<line x1="165.5" y1="592.7" x2="169.9" y2="592.7" stroke="#231f20" stroke-width="1.2" />
<line x1="165.5" y1="598.8" x2="169.9" y2="598.8" stroke="#231f20" stroke-width="1.2" />
<circle cx="167.7" cy="595" r="2" fill="#231f20"/>
<line x1="189.7" y1="595.4" x2="220.8" y2="595.4" stroke="#231f20" stroke-width="1.3" />
<line x1="205.1" y1="584.3" x2="205.1" y2="608" stroke="#231f20" stroke-width="1.3" />
<line x1="189.7" y1="593.2" x2="189.7" y2="597.6" stroke="#231f20" stroke-width="1.2" />
<line x1="220.8" y1="593.2" x2="220.8" y2="597.6" stroke="#231f20" stroke-width="1.2" />
<line x1="202.9" y1="584.3" x2="207.3" y2="584.3" stroke="#231f20" stroke-width="1.2" />
<line x1="202.9" y1="608" x2="207.3" y2="608" stroke="#231f20" stroke-width="1.2" />
<circle cx="205.1" cy="595.4" r="2" fill="#231f20"/>
<text x="115.8" y="640.1" font-size="11.6" textLength="132.2" lengthAdjust="spacingAndGlyphs"><tspan font-style="italic">k</tspan><tspan font-style="italic" font-size="6.8" dy="3.2">obs,max</tspan><tspan dy="-3.2"> = 1.20±0.14 µm</tspan><tspan font-size="6.5" dy="-4.2">-1</tspan><tspan dy="4.2"> s</tspan><tspan font-size="6.5" dy="-4.2">-1</tspan><tspan dy="4.2"></tspan></text>
<text x="115.8" y="655.2" font-size="11.6" textLength="85.9" lengthAdjust="spacingAndGlyphs"><tspan font-style="italic">f</tspan><tspan font-style="italic" font-size="7.2" dy="3">50</tspan><tspan dy="-3"> = 11.1±3.4 pN</tspan></text>
<text x="115.2" y="670.8" font-size="11.6" textLength="95.2" lengthAdjust="spacingAndGlyphs">Δ<tspan font-style="italic">x</tspan> = 0.93±0.59 nm</text>
<text x="115.2" y="686.4" font-size="11.6" textLength="98.9" lengthAdjust="spacingAndGlyphs">Δ<tspan font-style="italic">G</tspan> = 2.51±1.69 k<tspan font-size="7" dy="2.5">B</tspan><tspan dy="-2.5">T</tspan></text>
<text transform="translate(33.6,618.6) rotate(-90)" font-size="14.2" text-anchor="middle" textLength="173.5" lengthAdjust="spacingAndGlyphs">Initial binding rate N<tspan font-size="8.6" dy="4.6">freeWF</tspan><tspan dy="-4.6"> µm<tspan font-size="9" dy="-5">-1</tspan><tspan dy="5"> s</tspan><tspan font-size="9" dy="-5">-1</tspan><tspan dy="5">)</tspan></tspan></text>
<text x="268.3" y="528.1" font-size="16.5" text-anchor="start" stroke="#231f20" stroke-width="0.8">F</text>
<line x1="310.8" y1="545.4" x2="310.8" y2="693.3" stroke="#231f20" stroke-width="1.6" />
<line x1="306.5" y1="693.3" x2="310.8" y2="693.3" stroke="#231f20" stroke-width="1.4" />
<text x="302.3" y="697.7" font-size="12" text-anchor="end" >0</text>
<line x1="306.5" y1="670.2" x2="310.8" y2="670.2" stroke="#231f20" stroke-width="1.4" />
<text x="302.3" y="674.6" font-size="12" text-anchor="end" >0.2</text>
<line x1="306.5" y1="647.1" x2="310.8" y2="647.1" stroke="#231f20" stroke-width="1.4" />
<text x="302.3" y="651.5" font-size="12" text-anchor="end" >0.4</text>
<line x1="306.5" y1="624" x2="310.8" y2="624" stroke="#231f20" stroke-width="1.4" />
<text x="302.3" y="628.4" font-size="12" text-anchor="end" >0.6</text>
<line x1="306.5" y1="600.9" x2="310.8" y2="600.9" stroke="#231f20" stroke-width="1.4" />
<text x="302.3" y="605.3" font-size="12" text-anchor="end" >0.8</text>
<line x1="306.5" y1="577.8" x2="310.8" y2="577.8" stroke="#231f20" stroke-width="1.4" />
<text x="302.3" y="582.2" font-size="12" text-anchor="end" >1</text>
<line x1="306.5" y1="554.7" x2="310.8" y2="554.7" stroke="#231f20" stroke-width="1.4" />
<text x="302.3" y="559.1" font-size="12" text-anchor="end" >1.2</text>
<line x1="310.8" y1="693.3" x2="474.7" y2="693.3" stroke="#231f20" stroke-width="1.6" />
<line x1="310.8" y1="693.3" x2="310.8" y2="697.6" stroke="#231f20" stroke-width="1.4" />
<text x="310.8" y="711" font-size="12" text-anchor="middle" >0</text>
<line x1="340.26" y1="693.3" x2="340.26" y2="697.6" stroke="#231f20" stroke-width="1.4" />
<text x="340.26" y="711" font-size="12" text-anchor="middle" >5</text>
<line x1="369.72" y1="693.3" x2="369.72" y2="697.6" stroke="#231f20" stroke-width="1.4" />
<text x="369.72" y="711" font-size="12" text-anchor="middle" >10</text>
<line x1="399.18" y1="693.3" x2="399.18" y2="697.6" stroke="#231f20" stroke-width="1.4" />
<text x="399.18" y="711" font-size="12" text-anchor="middle" >15</text>
<line x1="428.64" y1="693.3" x2="428.64" y2="697.6" stroke="#231f20" stroke-width="1.4" />
<text x="428.64" y="711" font-size="12" text-anchor="middle" >20</text>
<line x1="458.1" y1="693.3" x2="458.1" y2="697.6" stroke="#231f20" stroke-width="1.4" />
<text x="458.1" y="711" font-size="12" text-anchor="middle" >25</text>
<text x="395.6" y="728.3" font-size="13.5" text-anchor="middle" textLength="63.3" lengthAdjust="spacingAndGlyphs">Tension (pN)</text>
<text x="323.3" y="545.4" font-size="11.5">480 dyn cm<tspan font-size="6.5" dy="-3.8">-2</tspan></text>
<polyline points="311,692.48 311.5,692.45 312,692.41 312.5,692.37 313,692.34 313.5,692.3 314,692.25 314.5,692.21 315,692.16 315.5,692.12 316,692.07 316.5,692.01 317,691.96 317.5,691.9 318,691.85 318.5,691.78 319,691.72 319.5,691.65 320,691.59 320.5,691.51 321,691.44 321.5,691.36 322,691.28 322.5,691.2 323,691.11 323.5,691.02 324,690.92 324.5,690.82 325,690.72 325.5,690.61 326,690.5 326.5,690.39 327,690.27 327.5,690.14 328,690.01 328.5,689.88 329,689.73 329.5,689.59 330,689.44 330.5,689.28 331,689.11 331.5,688.94 332,688.76 332.5,688.58 333,688.39 333.5,688.19 334,687.98 334.5,687.77 335,687.54 335.5,687.31 336,687.07 336.5,686.82 337,686.56 337.5,686.29 338,686.02 338.5,685.73 339,685.43 339.5,685.12 340,684.79 340.5,684.46 341,684.12 341.5,683.76 342,683.39 342.5,683.01 343,682.61 343.5,682.2 344,681.77 344.5,681.34 345,680.88 345.5,680.42 346,679.93 346.5,679.43 347,678.92 347.5,678.39 348,677.84 348.5,677.28 349,676.69 349.5,676.09 350,675.48 350.5,674.84 351,674.19 351.5,673.52 352,672.83 352.5,672.12 353,671.39 353.5,670.65 354,669.88 354.5,669.1 355,668.3 355.5,667.47 356,666.63 356.5,665.77 357,664.89 357.5,664 358,663.08 358.5,662.15 359,661.2 359.5,660.23 360,659.24 360.5,658.24 361,657.22 361.5,656.18 362,655.13 362.5,654.07 363,652.99 363.5,651.9 364,650.79 364.5,649.68 365,648.55 365.5,647.41 366,646.26 366.5,645.11 367,643.95 367.5,642.78 368,641.6 368.5,640.42 369,639.24 369.5,638.05 370,636.86 370.5,635.67 371,634.49 371.5,633.3 372,632.12 372.5,630.93 373,629.76 373.5,628.59 374,627.42 374.5,626.27 375,625.12 375.5,623.98 376,622.85 376.5,621.73 377,620.62 377.5,619.53 378,618.45 378.5,617.38 379,616.33 379.5,615.29 380,614.27 380.5,613.26 381,612.27 381.5,611.3 382,610.34 382.5,609.4 383,608.49 383.5,607.58 384,606.7 384.5,605.84 385,604.99 385.5,604.17 386,603.36 386.5,602.57 387,601.8 387.5,601.05 388,600.32 388.5,599.61 389,598.92 389.5,598.24 390,597.59 390.5,596.95 391,596.33 391.5,595.72 392,595.14 392.5,594.57 393,594.02 393.5,593.49 394,592.97 394.5,592.47 395,591.98 395.5,591.51 396,591.05 396.5,590.61 397,590.18 397.5,589.77 398,589.37 398.5,588.99 399,588.61 399.5,588.25 400,587.91 400.5,587.57 401,587.25 401.5,586.93 402,586.63 402.5,586.34 403,586.06 403.5,585.79 404,585.53 404.5,585.28 405,585.04 405.5,584.8 406,584.58 406.5,584.36 407,584.15 407.5,583.95 408,583.76 408.5,583.57 409,583.39 409.5,583.22 410,583.05 410.5,582.9 411,582.74 411.5,582.59 412,582.45 412.5,582.32 413,582.18 413.5,582.06 414,581.94 414.5,581.82 415,581.71 415.5,581.6 416,581.5 416.5,581.4 417,581.3 417.5,581.21 418,581.12 418.5,581.04 419,580.95 419.5,580.88 420,580.8 420.5,580.73 421,580.66 421.5,580.59 422,580.53 422.5,580.47 423,580.41 423.5,580.35 424,580.3 424.5,580.24 425,580.19 425.5,580.15 426,580.1 426.5,580.06 427,580.01 427.5,579.97 428,579.93 428.5,579.89 429,579.86 429.5,579.82 430,579.79 430.5,579.76 431,579.73 431.5,579.7 432,579.67 432.5,579.64 433,579.62 433.5,579.59 434,579.57 434.5,579.54 435,579.52 435.5,579.5 436,579.48 436.5,579.46 437,579.44 437.5,579.43 438,579.41 438.5,579.39 439,579.38 439.5,579.36 440,579.35 440.5,579.33 441,579.32 441.5,579.31 442,579.29 442.5,579.28 443,579.27 443.5,579.26 444,579.25 444.5,579.24 445,579.23 445.5,579.22 446,579.21 446.5,579.2 447,579.19 447.5,579.19 448,579.18 448.5,579.17 449,579.16 449.5,579.16 450,579.15 450.5,579.14 451,579.14 451.5,579.13 452,579.13 452.5,579.12 453,579.12 453.5,579.11 454,579.11 454.5,579.1 455,579.1 455.5,579.1 456,579.09 456.5,579.09 457,579.08 457.5,579.08 458,579.08 458.5,579.07 459,579.07 459.5,579.07 460,579.07 460.5,579.06 461,579.06 461.5,579.06 462,579.06 462.5,579.05 463,579.05 463.5,579.05 464,579.05 464.5,579.05 465,579.04 465.5,579.04 466,579.04 466.5,579.04 467,579.04 467.5,579.04 468,579.03 468.5,579.03 469,579.03 469.5,579.03 470,579.03 470.5,579.03 471,579.03 471.5,579.03 472,579.02 472.5,579.02 473,579.02 473.5,579.02 474,579.02" fill="none" stroke="#c8102e" stroke-width="2" stroke-linejoin="round" stroke-linecap="butt" />
<line x1="310.8" y1="686.9" x2="331.9" y2="686.9" stroke="#231f20" stroke-width="1.3" />
<line x1="320.4" y1="682.7" x2="320.4" y2="690.4" stroke="#231f20" stroke-width="1.3" />
<line x1="310.8" y1="684.7" x2="310.8" y2="689.1" stroke="#231f20" stroke-width="1.2" />
<line x1="331.9" y1="684.7" x2="331.9" y2="689.1" stroke="#231f20" stroke-width="1.2" />
<line x1="318.2" y1="682.7" x2="322.6" y2="682.7" stroke="#231f20" stroke-width="1.2" />
<line x1="318.2" y1="690.4" x2="322.6" y2="690.4" stroke="#231f20" stroke-width="1.2" />
<circle cx="320.4" cy="686.9" r="2" fill="#231f20"/>
<line x1="346.3" y1="665.4" x2="363" y2="665.4" stroke="#231f20" stroke-width="1.3" />
<line x1="355" y1="660" x2="355" y2="672" stroke="#231f20" stroke-width="1.3" />
<line x1="346.3" y1="663.2" x2="346.3" y2="667.6" stroke="#231f20" stroke-width="1.2" />
<line x1="363" y1="663.2" x2="363" y2="667.6" stroke="#231f20" stroke-width="1.2" />
<line x1="352.8" y1="660" x2="357.2" y2="660" stroke="#231f20" stroke-width="1.2" />
<line x1="352.8" y1="672" x2="357.2" y2="672" stroke="#231f20" stroke-width="1.2" />
<circle cx="355" cy="665.4" r="2" fill="#231f20"/>
<line x1="375.5" y1="612.9" x2="393" y2="612.9" stroke="#231f20" stroke-width="1.3" />
<line x1="384.4" y1="606.3" x2="384.4" y2="620.5" stroke="#231f20" stroke-width="1.3" />
<line x1="375.5" y1="610.7" x2="375.5" y2="615.1" stroke="#231f20" stroke-width="1.2" />
<line x1="393" y1="610.7" x2="393" y2="615.1" stroke="#231f20" stroke-width="1.2" />
<line x1="382.2" y1="606.3" x2="386.6" y2="606.3" stroke="#231f20" stroke-width="1.2" />
<line x1="382.2" y1="620.5" x2="386.6" y2="620.5" stroke="#231f20" stroke-width="1.2" />
<circle cx="384.4" cy="612.9" r="2" fill="#231f20"/>
<line x1="405.6" y1="570.8" x2="422.3" y2="570.8" stroke="#231f20" stroke-width="1.3" />
<line x1="413.7" y1="556.9" x2="413.7" y2="584.2" stroke="#231f20" stroke-width="1.3" />
<line x1="405.6" y1="568.6" x2="405.6" y2="573" stroke="#231f20" stroke-width="1.2" />
<line x1="422.3" y1="568.6" x2="422.3" y2="573" stroke="#231f20" stroke-width="1.2" />
<line x1="411.5" y1="556.9" x2="415.9" y2="556.9" stroke="#231f20" stroke-width="1.2" />
<line x1="411.5" y1="584.2" x2="415.9" y2="584.2" stroke="#231f20" stroke-width="1.2" />
<circle cx="413.7" cy="570.8" r="2" fill="#231f20"/>
<line x1="436.7" y1="589.2" x2="470" y2="589.2" stroke="#231f20" stroke-width="1.3" />
<line x1="453.1" y1="577.7" x2="453.1" y2="601" stroke="#231f20" stroke-width="1.3" />
<line x1="436.7" y1="587" x2="436.7" y2="591.4" stroke="#231f20" stroke-width="1.2" />
<line x1="470" y1="587" x2="470" y2="591.4" stroke="#231f20" stroke-width="1.2" />
<line x1="450.9" y1="577.7" x2="455.3" y2="577.7" stroke="#231f20" stroke-width="1.2" />
<line x1="450.9" y1="601" x2="455.3" y2="601" stroke="#231f20" stroke-width="1.2" />
<circle cx="453.1" cy="589.2" r="2" fill="#231f20"/>
<text x="322.2" y="568.6" font-size="12.3" text-anchor="start" >Half-width</text>
<text x="323.2" y="584.2" font-size="12" text-anchor="start" >tension bins</text>
<text x="379.7" y="631.6" font-size="11.6" textLength="128.9" lengthAdjust="spacingAndGlyphs"><tspan font-style="italic">k</tspan><tspan font-style="italic" font-size="6.8" dy="3.2">obs,max</tspan><tspan dy="-3.2"> = 0.99±0.37 µm</tspan><tspan font-size="6.5" dy="-4.2">-1</tspan><tspan dy="4.2"> s</tspan><tspan font-size="6.5" dy="-4.2">-1</tspan><tspan dy="4.2"></tspan></text>
<text x="379.7" y="650" font-size="11.6" textLength="87.1" lengthAdjust="spacingAndGlyphs"><tspan font-style="italic">f</tspan><tspan font-style="italic" font-size="7.2" dy="3">50</tspan><tspan dy="-3"> = 10.2±4.5 pN</tspan></text>
<text x="379.2" y="670" font-size="11.6" textLength="83.6" lengthAdjust="spacingAndGlyphs">Δ<tspan font-style="italic">x</tspan> = 2.2±3.1 nm</text>
<text x="379.2" y="685.6" font-size="11.6" textLength="78.2" lengthAdjust="spacingAndGlyphs">Δ<tspan font-style="italic">G</tspan> = 23±31 k<tspan font-size="7" dy="2.5">B</tspan><tspan dy="-2.5">T</tspan></text>
<text transform="translate(273.8,619.8) rotate(-90)" font-size="14.2" text-anchor="middle" textLength="175.7" lengthAdjust="spacingAndGlyphs">Initial binding rate N<tspan font-size="7.2" dy="4.8">freeVWF</tspan><tspan dy="-4.8"> µm<tspan font-size="9" dy="-5">-1</tspan><tspan dy="5"> s</tspan><tspan font-size="9" dy="-5">-1</tspan><tspan dy="5">)</tspan></tspan></text>
<rect x="0.9" y="0.9" width="518.2" height="740.2" fill="none" stroke="#111" stroke-width="1.8"/>
</svg>
</body></html>
